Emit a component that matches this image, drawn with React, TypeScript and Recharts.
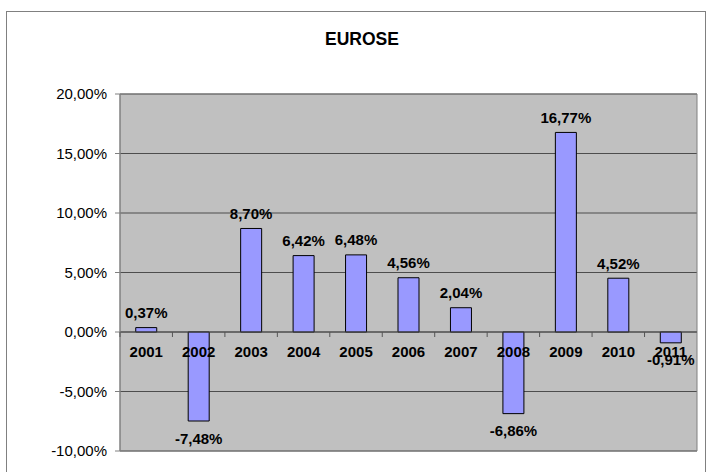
import React from 'react';
import { BarChart, Bar, XAxis, YAxis, CartesianGrid, ReferenceArea, ReferenceLine, LabelList } from 'recharts';

const years = ['2001', '2002', '2003', '2004', '2005', '2006', '2007', '2008', '2009', '2010', '2011'];
const returns = [0.37, -7.48, 8.7, 6.42, 6.48, 4.56, 2.04, -6.86, 16.77, 4.52, -0.91];
const yTicks = [-10, -5, 0, 5, 10, 15, 20];

const data = years.map((year, i) => ({ year, value: returns[i] }));

const FONT = '"Liberation Sans", Arial, sans-serif';
const fmt = (v: number) => `${v.toFixed(2).replace('.', ',')}%`;

// bar width is 40% of the band (barCategoryGap 30% on each side)
const BarLabels = (props: any) => {
  const { x, y, width, height, value, index } = props;
  const top = Math.min(y, y + height);
  const bottom = Math.max(y, y + height);
  const cx = x + width / 2;
  const zero = value >= 0 ? bottom : top;
  const band = width / 0.4;
  return (
    <g style={{ fontFamily: FONT, fontWeight: 'bold', fontSize: 15 }}>
      <line x1={cx - band / 2} x2={cx - band / 2} y1={zero} y2={zero + 5} stroke="#555" />
      <text x={cx} y={zero + 19} textAnchor="middle" dominantBaseline="central" fill="#000">
        {years[index]}
      </text>
      <text
        x={cx}
        y={value >= 0 ? top - 15 : bottom + 17}
        textAnchor="middle"
        dominantBaseline="central"
        fill="#000"
      >
        {fmt(value)}
      </text>
    </g>
  );
};

export default function App() {
  return (
    <div style={{ position: 'absolute', left: 0, top: 0, width: 707, height: 472, background: '#fff', overflow: 'hidden' }}>
      <div style={{ position: 'absolute', left: 6, top: 11, width: 700, height: 480, border: '1px solid #808080', boxSizing: 'border-box' }} />
      <div
        style={{
          position: 'absolute', left: 262, top: 29, width: 200, textAlign: 'center',
          fontFamily: FONT, fontWeight: 'bold', fontSize: 17.5, lineHeight: '20px', color: '#000',
        }}
      >
        EUROSE
      </div>
      <div style={{ position: 'absolute', left: 0, top: 0 }}>
        <BarChart
          width={707}
          height={472}
          data={data}
          margin={{ top: 94, right: 10, bottom: 21, left: 0 }}
          barCategoryGap="30%"
        >
          <CartesianGrid vertical={false} fill="#C0C0C0" stroke="#4d4d4d" />
          <XAxis dataKey="year" hide />
          <YAxis
            width={120}
            domain={[-10, 20]}
            ticks={yTicks}
            interval={0}
            tickFormatter={fmt}
            axisLine={{ stroke: '#808080' }}
            tickLine={{ stroke: '#808080' }}
            tickSize={5}
            tickMargin={8}
            tick={{ fontFamily: FONT, fontSize: 15, fill: '#000' }}
          />
          <ReferenceArea y1={-10} y2={20} fill="none" fillOpacity={0} stroke="#808080" strokeWidth={1} />
          <ReferenceLine y={0} stroke="#4d4d4d" />
          <Bar dataKey="value" fill="#9999FF" stroke="#000" strokeWidth={1} isAnimationActive={false}>
            <LabelList dataKey="value" content={BarLabels} />
          </Bar>
        </BarChart>
      </div>
    </div>
  );
}
